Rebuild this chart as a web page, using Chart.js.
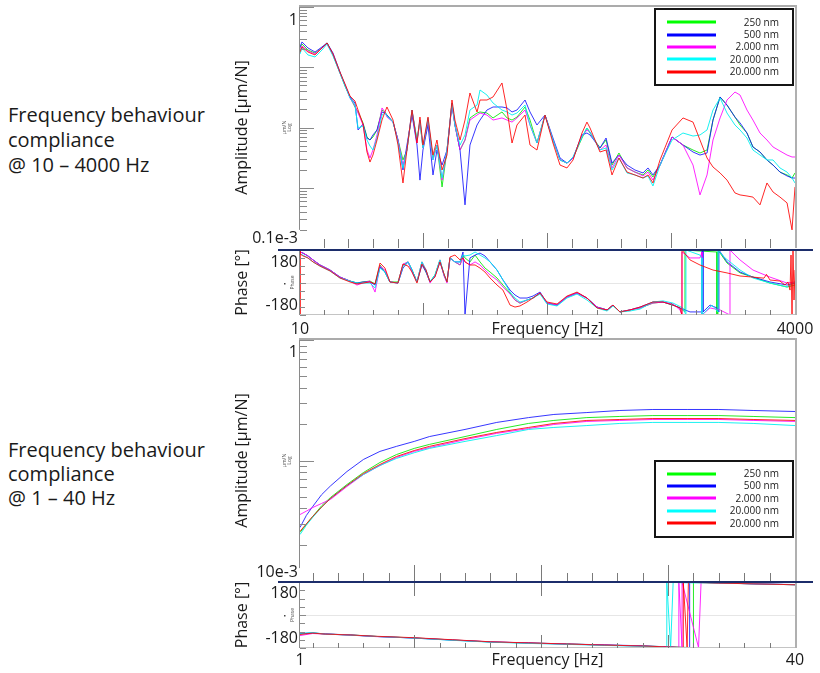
<!DOCTYPE html>
<html><head><meta charset="utf-8">
<script src="https://cdn.jsdelivr.net/npm/chart.js@4.4.1/dist/chart.umd.min.js"></script>
<style>
html,body{margin:0;padding:0;background:#fff;width:820px;height:673px;overflow:hidden;font-family:"Open Sans",sans-serif;}
canvas{position:absolute;}
.note{position:absolute;left:8px;font-size:20px;color:#1a1a1a;white-space:nowrap;}
</style></head><body>
<div class="note" style="top:102px;line-height:25px">Frequency behaviour<br>compliance<br>@ 10 – 4000 Hz</div>
<div class="note" style="top:438px;line-height:24px">Frequency behaviour<br>compliance<br>@ 1 – 40 Hz</div>
<canvas id="cA" width="590" height="250" style="left:230px;top:0px"></canvas>
<canvas id="cB" width="590" height="92" style="left:230px;top:248px"></canvas>
<canvas id="cC" width="590" height="250" style="left:230px;top:335px"></canvas>
<canvas id="cD" width="590" height="93" style="left:230px;top:580px"></canvas>
<script>
// ---------- legend / series ----------
const seriesLabels = ['250 nm','500 nm','2.000 nm','20.000 nm','20.000 nm'];
const seriesColors = ['rgba(0,230,0,0.85)','rgba(20,20,255,0.85)','rgba(255,0,255,0.85)','rgba(0,240,240,0.9)','rgba(255,0,0,0.85)'];
const legendColors = ['#00ff00','#0000ff','#ff00ff','#00ffff','#ff0000'];
const drawOrder = [4, 3, 2, 1, 0];

// ---------- axis texts ----------
const ampTopLabels = ['1','0.1e-3'];
const ampBotLabels = ['1','10e-3'];
const phaseLabels = ['180','-180'];
const xLabelsTop = ['10','4000'];
const xLabelsBot = ['1','40'];
const xTitle = 'Frequency [Hz]';
const ampTitle = 'Amplitude [μm/N]';
const phaseTitle = 'Phase [°]';

// ---------- 10 - 4000 Hz amplitude (μm/N) ----------
const freqTop = [10,26,74,131,187,228,276,332,373,413, 453,478,518,550,574,598,631,671,695,711, 760,800,840,872,913,953,977,1001,1042,1082, 1114,1155,1195,1235,1259,1300,1340,1380,1437,1461, 1517,1566,1638,1679,1719,1759,1824,1864,1920,1985, 2049,2106,2162,2211,2283,2323,2348,2428,2477,2525, 2581,2646,2710,2775,2815,2855,2912,3009,3097,3178, 3234,3291,3339,3396,3452,3516,3557,3613,3661,3718, 3774,3823,3879,3936,3976,4000];
const ampTop250 = [0.209,0.243,0.193,0.172,0.209,0.253,0.160,0.0803,0.0488,0.0321,
 0.0219,0.0181,0.0119,0.00695,0.0062,0.00695,0.0091,0.0195,0.0181,0.0161,
 0.0123,0.0062,0.00289,0.00423,0.0181,0.0062,0.0123,0.00457,0.0123,0.00312,
 0.00512,0.00103,0.00423,0.0255,0.011,0.00423,0.0062,0.0144,0.0174,0.0181,
 0.0174,0.0144,0.0181,0.0144,0.0133,0.0149,0.0219,0.0133,0.00553,0.0161,
 0.0062,0.00289,0.00257,0.00312,0.00669,0.0098,0.0081,0.00457,0.0062,0.00238,
 0.00377,0.00213,0.00182,0.00163,0.00197,0.00151,0.00238,0.00695,0.00512,0.00423,
 0.00377,0.00423,0.0133,0.0321,0.0236,0.0149,0.011,0.0081,0.00475,0.00392,
 0.00289,0.00238,0.00182,0.00163,0.00145,0.00176];
const ampTop500 = [0.217,0.263,0.209,0.179,0.217,0.253,0.172,0.0834,0.0507,0.0321,
 0.0255,0.0091,0.0114,0.00669,0.0062,0.00751,0.0091,0.0181,0.0174,0.0161,
 0.0123,0.0062,0.00197,0.00512,0.0161,0.00512,0.00134,0.00423,0.011,0.00163,
 0.00423,0.00238,0.00423,0.0236,0.011,0.00423,0.00052,0.00512,0.011,0.0133,
 0.0195,0.0219,0.0219,0.0211,0.0181,0.0195,0.0286,0.0181,0.011,0.0161,
 0.00669,0.00312,0.00257,0.00312,0.00751,0.0081,0.00751,0.00457,0.00669,0.00257,
 0.00349,0.00238,0.00197,0.00176,0.00213,0.00163,0.00238,0.00695,0.00512,0.00392,
 0.00349,0.00377,0.0133,0.0321,0.0236,0.0149,0.0119,0.0081,0.00475,0.00392,
 0.00289,0.00238,0.00182,0.00157,0.00145,0.00145];
const ampTop2000 = [0.193,0.225,0.186,0.166,0.209,0.243,0.160,0.0803,0.0507,0.0309,
 0.0227,0.0174,0.011,0.00423,0.00312,0.00423,0.00751,0.0211,0.0181,0.0149,
 0.0123,0.0062,0.00238,0.00423,0.0195,0.00553,0.0133,0.00457,0.0133,0.00289,
 0.00512,0.00134,0.00423,0.0255,0.011,0.00423,0.0062,0.0133,0.0161,0.0174,
 0.0161,0.0133,0.0144,0.0133,0.0123,0.0144,0.0195,0.011,0.00553,0.0161,
 0.0062,0.00289,0.00257,0.00312,0.00722,0.0091,0.00842,0.00423,0.00512,0.00213,
 0.00349,0.00213,0.00182,0.00157,0.00182,0.00134,0.00238,0.00695,0.00512,0.00238,
 0.00076,0.00163,0.0062,0.0144,0.0286,0.0388,0.0346,0.0195,0.0133,0.0081,
 0.0062,0.00475,0.00407,0.00349,0.00324,0.00324];
const ampTop20000a = [0.166,0.209,0.160,0.148,0.193,0.243,0.154,0.0803,0.0488,0.0309,
 0.0236,0.0098,0.0106,0.0062,0.00493,0.00423,0.00669,0.0161,0.0174,0.0155,
 0.0123,0.00574,0.00213,0.00423,0.0195,0.0062,0.0133,0.00457,0.0144,0.00289,
 0.00512,0.00145,0.00423,0.0255,0.011,0.00512,0.00751,0.0195,0.0236,0.0419,
 0.0346,0.0255,0.0195,0.0181,0.0161,0.0174,0.0236,0.011,0.00553,0.0161,
 0.0062,0.00289,0.00257,0.00324,0.00695,0.0098,0.00842,0.00423,0.00457,0.00197,
 0.00312,0.00176,0.00163,0.00145,0.00157,0.00107,0.00238,0.0062,0.0081,0.00722,
 0.00751,0.0091,0.0195,0.0309,0.0174,0.011,0.0091,0.00669,0.00423,0.00349,
 0.00289,0.00289,0.00213,0.00182,0.00145,0.0012];
const ampTop20000b = [0.179,0.217,0.179,0.160,0.209,0.253,0.166,0.0834,0.0527,0.0333,
 0.0275,0.0195,0.0114,0.00392,0.00267,0.00349,0.0062,0.0133,0.0181,0.0219,
 0.0133,0.00512,0.0012,0.00423,0.0195,0.00553,0.0149,0.00512,0.0149,0.00349,
 0.0062,0.00197,0.00349,0.0286,0.0133,0.0062,0.0133,0.0374,0.0181,0.0286,
 0.0286,0.0321,0.0548,0.0195,0.00553,0.011,0.0161,0.00512,0.00423,0.0161,
 0.00553,0.00238,0.00213,0.00289,0.0081,0.0123,0.0098,0.00392,0.00423,0.00163,
 0.00312,0.00182,0.00163,0.00145,0.00163,0.0012,0.00289,0.0091,0.0144,0.0123,
 0.0062,0.00312,0.00221,0.00176,0.00134,0.00082,0.00076,0.00073,0.0007,0.00052,
 0.0012,0.00085,0.0007,0.00056,0.0002,0.00103];

// ---------- 10 - 4000 Hz phase (deg) ----------
const phaseFreqTop = [10,34,74,115,171,252,332,413,469,518, 574,615,655,695,735,800,840,881,913,953, 993,1026,1058,1098,1138,1171,1195,1219,1259,1300, 1324,1340,1380,1421,1461,1501,1542,1598,1646,1703, 1743,1783,1840,1888,1945,2001,2082,2162,2243,2323, 2404,2485,2533,2589,2670,2751,2855,2936,3017];
const phaseTop250 = [169,163,147,125,97,69,30,8,-3,3, 8,-8,97,58,3,3,97,114,69,3, 114,58,3,42,125,42,3,136,114,97, 152,136,114,152,114,80,58,25,-14,-58, -97,-114,-97,-86,-58,-114,-125,-80,-58,-86, -136,-152,-125,-163,-152,-141,-114,-108,-125];
const phaseTop500 = [169,163,147,125,97,69,30,8,-3,3, 3,-14,86,58,3,-3,80,114,69,3, 97,58,3,36,114,42,3,136,114,114, 169,-180,136,152,163,147,114,69,14,-42, -69,-86,-86,-75,-53,-114,-125,-80,-58,-86, -136,-152,-125,-163,-152,-136,-108,-108,-125];
const phaseTop2000 = [169,163,147,125,97,69,30,8,-14,-3, 8,-53,91,69,3,-3,102,114,58,3, 114,69,-3,36,125,36,-3,136,114,97, 136,114,97,114,97,69,42,14,-25,-64, -97,-114,-97,-86,-58,-114,-125,-80,-58,-86, -136,-152,-125,-163,-152,-141,-114,-108,-119];
const phaseTop20000a = [158,152,136,114,91,64,25,8,-3,-3, -3,-30,80,58,3,-3,91,114,69,3, 114,69,3,42,125,42,3,136,114,114, 152,147,152,169,152,136,114,69,14,-53, -86,-108,-97,-86,-64,-119,-130,-86,-64,-97, -141,-158,-130,-163,-158,-147,-108,-102,-114];
const phaseTop20000b = [158,147,136,114,91,64,25,3,-8,-3, 3,-8,108,80,3,-3,102,91,58,-3, 102,69,3,30,114,47,3,141,152,125, 136,114,97,97,80,58,25,-14,-42,-125, -136,-130,-108,-86,-58,-108,-119,-75,-53,-86, -141,-152,-125,-163,-152,-136,-108,-108,-125];
const headFreqTop20000b = [10,11,12];
const headPhaseTop20000b = [180,-180,178];
const tailFreqTop250 = [3073,3113,3113,3234,3371,3371,3379,3379,3452,3557,3661,3798,3936,4000];
const tailPhaseTop250 = [-141,-163,180,174,169,-180,-180,180,108,53,30,-3,-25,-14];
const tailFreqTop500 = [3073,3154,3250,3250,3258,3258,3315,3371,3387,3387,3452,3557,3661,3798,3936,4000];
const tailPhaseTop500 = [-141,-163,-163,180,180,-163,-125,-141,-163,180,114,58,30,3,-14,-3];
const tailFreqTop2000 = [3073,3089,3089,3154,3234,3250,3250,3315,3396,3476,3476,3516,3557,3661,3798,3936,4000];
const tailPhaseTop2000 = [-152,-180,169,136,136,169,-180,-141,-152,-180,180,152,125,69,30,-3,3];
const tailFreqTop20000a = [3097,3121,3121,3234,3250,3250,3274,3331,3379,3379,3436,3557,3661,3798,3936,4000];
const tailPhaseTop20000a = [-141,-180,180,152,136,-180,-163,-125,-163,180,136,69,25,-3,-25,3];
const tailFreqTop20000b = [3073,3089,3089,3154,3234,3339,3452,3557,3661,3750,3770,3798,3879,3919,3943,3960,3968,3976,3984,3992,4000];
const tailPhaseTop20000b = [-141,-180,180,125,97,69,53,36,30,24,45,14,8,-14,3,-42,152,-180,180,-97,69];

// ---------- 1 - 40 Hz amplitude (μm/N) ----------
const freqBot = [1,1.5,2,2.7,3.4,4.7,6,7.3,8.6,10,11.2,14,16.5,19,21,23.6,26.2,28.8,31.5,34,36.7,40];
const ampBot250 = [0.0253,0.0295,0.0343,0.042,0.0493,0.0632,0.0795,0.0963,0.112,0.126,0.136,0.158,0.181,0.203,0.215,0.227,0.232,0.236,0.236,0.236,0.232,0.227];
const ampBot500 = [0.0278,0.035,0.0415,0.052,0.0615,0.081,0.102,0.119,0.131,0.144,0.158,0.181,0.207,0.227,0.241,0.25,0.26,0.265,0.265,0.265,0.26,0.255];
const ampBot2000 = [0.0356,0.038,0.0407,0.044,0.0475,0.0608,0.0765,0.0909,0.106,0.119,0.128,0.149,0.168,0.184,0.199,0.211,0.215,0.219,0.219,0.219,0.215,0.211];
const ampBot20000a = [0.0243,0.029,0.0337,0.041,0.0484,0.062,0.0765,0.0909,0.104,0.116,0.126,0.144,0.161,0.181,0.188,0.195,0.203,0.207,0.207,0.207,0.203,0.195];
const ampBot20000b = [0.0258,0.0298,0.0343,0.041,0.0484,0.062,0.078,0.0927,0.108,0.121,0.131,0.152,0.171,0.188,0.203,0.215,0.219,0.223,0.223,0.223,0.219,0.215];

// ---------- 1 - 40 Hz phase (deg) ----------
const phaseFreqBot = [1,2,3,5,7,10,13,16,19,22,25,28];
const phaseBot250 = [-104,-98,-104,-109,-117,-125,-136,-147,-153,-158,-164,-169];
const phaseBot500 = [-101,-98,-103,-109,-117,-126,-137,-147,-152,-158,-163,-168];
const phaseBot2000 = [-112,-101,-104,-110,-118,-125,-136,-146,-153,-159,-164,-170];
const phaseBot20000a = [-100,-97,-104,-110,-117,-126,-138,-148,-155,-160,-166,-171];
const phaseBot20000b = [-106,-99,-104,-109,-116,-124,-135,-146,-152,-158,-164,-169];
const tailFreqBot250 = [31.5,32,32,34,36.7,40];
const tailPhaseBot250 = [-177,-180,179,175,170,165];
const tailFreqBot500 = [31.4,31.7,31.7,34,36.7,40];
const tailPhaseBot500 = [-178,-180,180,175,170,166];
const tailFreqBot2000 = [30.5,30.85,30.85,31.1,31.1,32.4,32.6,34,36.7,40];
const tailPhaseBot2000 = [-176,-179,179,-179,179,-178,178,175,170,165];
const tailFreqBot20000a = [29.5,29.9,29.9,30.2,30.4,31,34,36.7,40];
const tailPhaseBot20000a = [-174,-179,179,-178,178,176,174,170,165];
const tailFreqBot20000b = [31,31.2,31.2,31.5,31.6,34,36.7,40];
const tailPhaseBot20000b = [-177,-180,180,-178,178,174,170,165];

// ---------- helpers ----------
const pts = (xs, ys) => xs.map((v, i) => ({x: v, y: ys[i]}));
const FONT = '"Open Sans", sans-serif';
const TXT = '#1a1a1a';
const NAVY = '#1c2d6b';

function logTicks(lo, hi) {
  const out = [];
  for (let e = Math.floor(Math.log10(lo)) - 1; e <= Math.ceil(Math.log10(hi)); e++) {
    for (let m = 1; m <= 9; m++) {
      const v = m * Math.pow(10, e);
      if (v >= lo * 0.999 && v <= hi * 1.001) out.push({v, major: m === 1});
    }
  }
  return out;
}
function linTicks(a, b, step, majorStep) {
  const out = [];
  for (let v = a; v <= b + 1e-9; v += step) out.push({v, major: Math.abs(v / majorStep - Math.round(v / majorStep)) < 1e-6});
  return out;
}

function makeDeco(s) {
  return {
    id: 'deco',
    beforeDatasetsDraw(chart) {
      const {ctx, chartArea: a, scales: {y}} = chart;
      if (s.zero) {
        ctx.save();
        ctx.fillStyle = '#e6e6e6';
        ctx.fillRect(a.left, Math.round(y.getPixelForValue(0)), a.right - a.left, 1);
        ctx.restore();
      }
    },
    afterDatasetsDraw(chart) {
      const {ctx, chartArea: a, scales: {x, y}} = chart;
      ctx.save();
      if (s.top) { ctx.fillStyle = '#ababab'; ctx.fillRect(a.left - 1, a.top - 2, a.right - a.left + 3, 2); }
      ctx.fillStyle = '#b0b0b0';
      ctx.fillRect(a.right, a.top - (s.top ? 2 : 0), 2, a.bottom - a.top + (s.top ? 2 : 0));
      if (s.bottom) { ctx.fillStyle = '#c4c4c4'; ctx.fillRect(a.left, a.bottom - 1, a.right - a.left, 1); }
      const leftBottom = s.leftEnd != null ? y.getPixelForValue(s.leftEnd) : a.bottom;
      ctx.fillStyle = '#8a8a8a';
      ctx.fillRect(a.left - 1, a.top, 1, leftBottom - a.top);
      for (const t of s.yTicks) {
        const py = Math.round(y.getPixelForValue(t.v));
        ctx.fillRect(a.left, py, t.major ? s.yMajor : s.yMinor, 1);
      }
      ctx.fillStyle = '#7a7a7a';
      for (const t of (s.xBottom || [])) {
        const px = Math.round(x.getPixelForValue(t.v));
        const len = t.major ? s.xbMajor : s.xbMinor;
        ctx.fillRect(px, a.bottom - len, 1, len);
      }
      for (const t of (s.xTop || [])) {
        if (!t.major) continue;
        const px = Math.round(x.getPixelForValue(t.v));
        ctx.fillRect(px, a.top, 1, s.xtMajor);
      }
      if (s.sep) { ctx.fillStyle = NAVY; ctx.fillRect(s.sep.x0, s.sep.y, s.sep.x1 - s.sep.x0, 2); }
      ctx.fillStyle = TXT;
      ctx.font = '16px ' + FONT;
      ctx.textAlign = 'right';
      ctx.textBaseline = 'middle';
      for (const l of s.yLabels) ctx.fillText(l.t, a.left - 2, y.getPixelForValue(l.v) + l.dy);
      if (s.xLabels) {
        ctx.textAlign = 'center';
        for (const l of s.xLabels) ctx.fillText(l.t, x.getPixelForValue(l.v), s.xLabelY);
        ctx.fillText(s.xTitle, (a.left + a.right) / 2, s.xLabelY);
      }
      ctx.save();
      ctx.translate(12, (a.top + a.bottom) / 2);
      ctx.rotate(-Math.PI / 2);
      ctx.textAlign = 'center';
      ctx.textBaseline = 'middle';
      ctx.font = '16px ' + FONT;
      ctx.fillText(s.yTitle, 0, 0);
      ctx.restore();
      ctx.save();
      ctx.fillStyle = '#555';
      ctx.font = '5px ' + FONT;
      const ty = s.tinyV != null ? y.getPixelForValue(s.tinyV) : (a.top + a.bottom) / 2;
      s.tiny.forEach((t, i) => {
        ctx.save();
        ctx.translate(s.tinyX + i * 5, ty);
        ctx.rotate(-Math.PI / 2);
        ctx.textAlign = 'center';
        ctx.textBaseline = 'middle';
        ctx.fillText(t, 0, 0);
        ctx.restore();
      });
      if (s.dot) { ctx.fillStyle = '#444'; ctx.fillRect(s.dot, Math.round(ty), 1.5, 1.5); }
      ctx.restore();
      if (s.legend) {
        const L = s.legend;
        ctx.fillStyle = '#fff';
        ctx.fillRect(L.x, L.y, L.w, L.h);
        ctx.strokeStyle = '#151515';
        ctx.lineWidth = 2;
        ctx.strokeRect(L.x, L.y, L.w, L.h);
        ctx.font = '10px ' + FONT;
        ctx.textAlign = 'right';
        ctx.textBaseline = 'middle';
        seriesLabels.forEach((lab, i) => {
          const ry = L.y + L.r0 + i * L.rs;
          ctx.fillStyle = legendColors[i];
          ctx.fillRect(L.x + 12, Math.round(ry) - 1.5, 49, 3);
          ctx.fillStyle = '#222';
          ctx.fillText(lab, L.x + L.w - 14, ry + 0.5);
        });
      }
      ctx.restore();
    }
  };
}

function makeChart(id, datasets, xMin, xMax, yType, yMin, yMax, pad, deco) {
  return new Chart(document.getElementById(id), {
    type: 'line',
    data: {datasets},
    options: {
      responsive: false, animation: false, devicePixelRatio: 1,
      layout: {padding: pad},
      elements: {point: {radius: 0}, line: {tension: 0, borderWidth: 1}},
      plugins: {legend: {display: false}, tooltip: {enabled: false}},
      scales: {
        x: {type: 'linear', min: xMin, max: xMax, display: false},
        y: {type: yType, min: yMin, max: yMax, display: false}
      }
    },
    plugins: [makeDeco(deco)]
  });
}
const ds = (data, i) => ({label: seriesLabels[i], data, borderColor: seriesColors[i], borderWidth: 1, fill: false, pointRadius: 0, order: drawOrder[i]});

makeChart('cA', [
  ds(pts(freqTop, ampTop250), 0),
  ds(pts(freqTop, ampTop500), 1),
  ds(pts(freqTop, ampTop2000), 2),
  ds(pts(freqTop, ampTop20000a), 3),
  ds(pts(freqTop, ampTop20000b), 4)
], 10, 4000, 'logarithmic', 1e-4, 1, {left: 70, right: 25, top: 7, bottom: 2}, {
  top: true, leftEnd: 2e-4,
  yTicks: logTicks(2e-4, 1), yMajor: 14, yMinor: 7,
  xBottom: linTicks(200, 3800, 200, 1000), xbMajor: 15, xbMinor: 9,
  yLabels: [{t: ampTopLabels[0], v: 1, dy: 13}, {t: ampTopLabels[1], v: 1e-4, dy: -10}],
  yTitle: ampTitle, tiny: ['μm/N', 'Log'], tinyX: 55, tinyV: 0.01,
  legend: {x: 425, y: 9, w: 138, h: 76, r0: 13.3, rs: 12.35}
});

makeChart('cB', [
  ds(pts(phaseFreqTop, phaseTop250).concat(pts(tailFreqTop250, tailPhaseTop250)), 0),
  ds(pts(phaseFreqTop, phaseTop500).concat(pts(tailFreqTop500, tailPhaseTop500)), 1),
  ds(pts(phaseFreqTop, phaseTop2000).concat(pts(tailFreqTop2000, tailPhaseTop2000)), 2),
  ds(pts(phaseFreqTop, phaseTop20000a).concat(pts(tailFreqTop20000a, tailPhaseTop20000a)), 3),
  ds(pts(headFreqTop20000b, headPhaseTop20000b).concat(pts(phaseFreqTop, phaseTop20000b), pts(tailFreqTop20000b, tailPhaseTop20000b)), 4)
], 10, 4000, 'linear', -180, 180, {left: 70, right: 25, top: 2, bottom: 25}, {
  bottom: true, zero: true,
  yTicks: linTicks(-180, 180, 45, 180), yMajor: 6, yMinor: 5,
  xBottom: linTicks(200, 3800, 200, 1000), xbMajor: 12, xbMinor: 5,
  sep: {x0: 48, x1: 583, y: 1},
  yLabels: [{t: phaseLabels[0], v: 180, dy: 12}, {t: phaseLabels[1], v: -180, dy: -10}],
  xLabels: [{t: xLabelsTop[0], v: 10}, {t: xLabelsTop[1], v: 4000}], xTitle: xTitle, xLabelY: 81,
  yTitle: phaseTitle, tiny: ['Phase'], tinyX: 63, tinyV: 0, dot: 54
});

makeChart('cC', [
  ds(pts(freqBot, ampBot250), 0),
  ds(pts(freqBot, ampBot500), 1),
  ds(pts(freqBot, ampBot2000), 2),
  ds(pts(freqBot, ampBot20000a), 3),
  ds(pts(freqBot, ampBot20000b), 4)
], 1, 40, 'logarithmic', 0.01, 1, {left: 70, right: 25, top: 5, bottom: 4}, {
  top: true, leftEnd: 0.0128,
  yTicks: logTicks(0.0128, 1), yMajor: 14, yMinor: 7,
  xBottom: linTicks(2, 38, 2, 10), xbMajor: 16, xbMinor: 8,
  yLabels: [{t: ampBotLabels[0], v: 1, dy: 12}, {t: ampBotLabels[1], v: 0.01, dy: -9}],
  yTitle: ampTitle, tiny: ['μm/N', 'Log'], tinyX: 55, tinyV: 0.1,
  legend: {x: 425, y: 126, w: 138, h: 76, r0: 12.5, rs: 12.45}
});

makeChart('cD', [
  ds(pts(phaseFreqBot, phaseBot250).concat(pts(tailFreqBot250, tailPhaseBot250)), 0),
  ds(pts(phaseFreqBot, phaseBot500).concat(pts(tailFreqBot500, tailPhaseBot500)), 1),
  ds(pts(phaseFreqBot, phaseBot2000).concat(pts(tailFreqBot2000, tailPhaseBot2000)), 2),
  ds(pts(phaseFreqBot, phaseBot20000a).concat(pts(tailFreqBot20000a, tailPhaseBot20000a)), 3),
  ds(pts(phaseFreqBot, phaseBot20000b).concat(pts(tailFreqBot20000b, tailPhaseBot20000b)), 4)
], 1, 40, 'linear', -180, 180, {left: 70, right: 25, top: 2, bottom: 25}, {
  bottom: true, zero: true,
  yTicks: linTicks(-180, 180, 45, 180), yMajor: 6, yMinor: 5,
  xBottom: linTicks(2, 38, 2, 10), xbMajor: 13, xbMinor: 5,
  xTop: linTicks(10, 30, 10, 10), xtMajor: 14,
  sep: {x0: 48, x1: 583, y: 1},
  yLabels: [{t: phaseLabels[0], v: 180, dy: 11}, {t: phaseLabels[1], v: -180, dy: -10}],
  xLabels: [{t: xLabelsBot[0], v: 1}, {t: xLabelsBot[1], v: 40}], xTitle: xTitle, xLabelY: 80,
  yTitle: phaseTitle, tiny: ['Phase'], tinyX: 63, tinyV: 0, dot: 54
});
</script>
</body></html>
